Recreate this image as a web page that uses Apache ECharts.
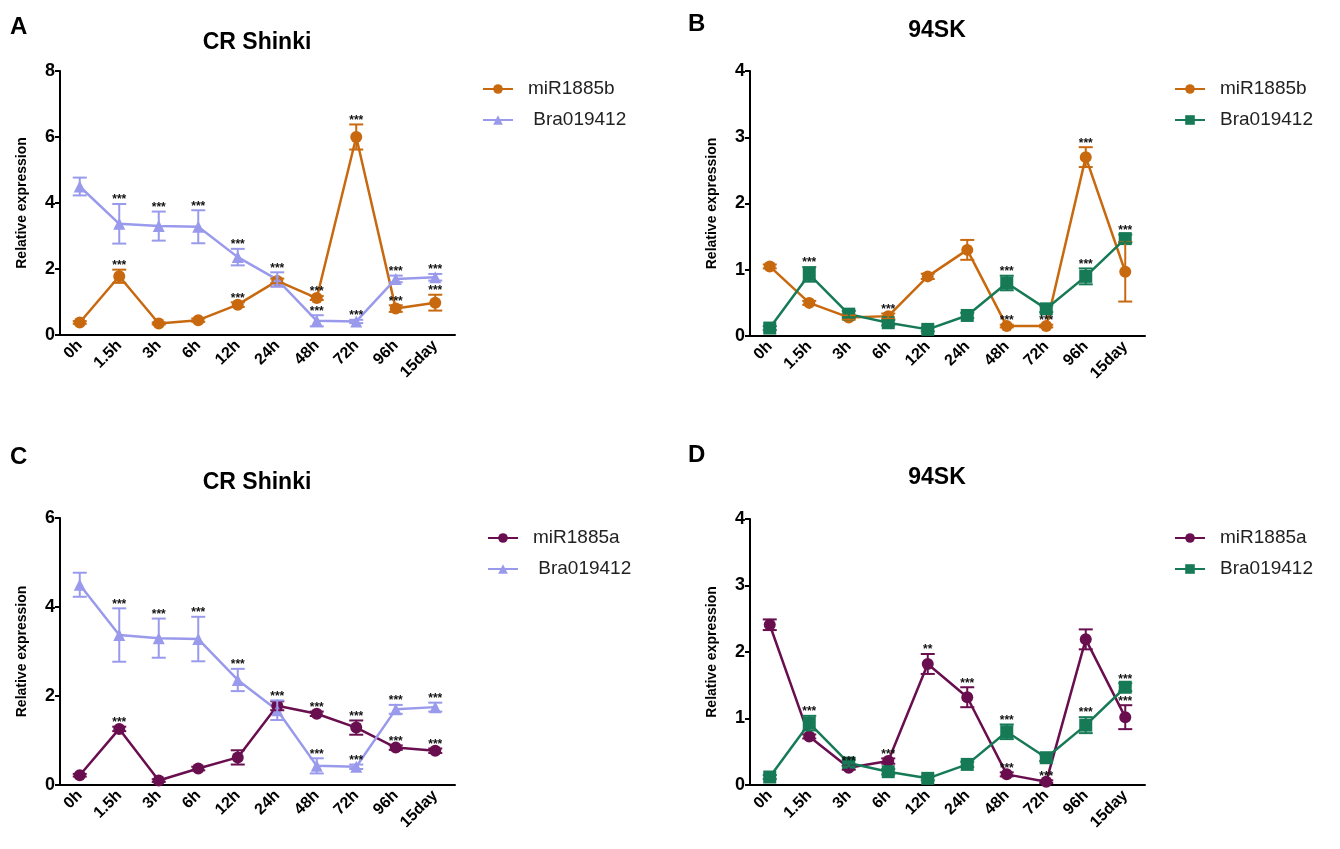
<!DOCTYPE html>
<html>
<head>
<meta charset="utf-8">
<title>miR1885 / Bra019412 relative expression</title>
<script src="https://cdn.jsdelivr.net/npm/echarts@6/dist/echarts.min.js"></script>
<style>
  html, body { margin: 0; padding: 0; background: #fff; }
  #chart { width: 1340px; height: 849px; }
</style>
</head>
<body>
<div id="chart"></div>
<script>
// Sampling times after inoculation
const categories = ['0h', '1.5h', '3h', '6h', '12h', '24h', '48h', '72h', '96h', '15day'];

// CR Shinki
const shinkiBra = [4.50, 3.37, 3.30, 3.28, 2.36, 1.68, 0.43, 0.41, 1.70, 1.75];
const shinkiBraErr = [0.27, 0.60, 0.44, 0.50, 0.25, 0.22, 0.17, 0.05, 0.10, 0.10];
const shinkiBraStars = ['', '***', '***', '***', '***', '***', '***', '***', '***', '***'];

const shinkiMiR1885b = [0.38, 1.78, 0.35, 0.45, 0.92, 1.64, 1.12, 6.00, 0.80, 0.98];
const shinkiMiR1885bErr = [0.04, 0.20, 0.03, 0.05, 0.07, 0.07, 0.06, 0.38, 0.10, 0.24];
const shinkiMiR1885bStars = ['', '***', '', '', '***', '', '***', '***', '***', '***'];

const shinkiMiR1885a = [0.22, 1.26, 0.10, 0.37, 0.62, 1.78, 1.60, 1.29, 0.84, 0.77];
const shinkiMiR1885aErr = [0.03, 0.05, 0.03, 0.04, 0.16, 0.10, 0.05, 0.16, 0.05, 0.05];
const shinkiMiR1885aStars = ['', '***', '', '', '', '', '***', '***', '***', '***'];

// 94SK
const skBra = [0.12, 0.93, 0.33, 0.20, 0.10, 0.31, 0.80, 0.41, 0.90, 1.47];
const skBraErr = [0.03, 0.11, 0.05, 0.04, 0.03, 0.04, 0.11, 0.05, 0.12, 0.06];
const skBraStars = ['', '***', '', '', '', '', '***', '', '***', '***'];

const skMiR1885b = [1.05, 0.50, 0.28, 0.30, 0.90, 1.30, 0.15, 0.15, 2.70, 0.97];
const skMiR1885bErr = [0.03, 0.03, 0.03, 0.04, 0.04, 0.15, 0.02, 0.02, 0.15, 0.45];
const skMiR1885bStars = ['', '', '', '***', '', '', '***', '***', '***', ''];

const skMiR1885a = [2.41, 0.73, 0.26, 0.36, 1.82, 1.32, 0.16, 0.05, 2.19, 1.02];
const skMiR1885aErr = [0.08, 0.03, 0.03, 0.04, 0.15, 0.15, 0.03, 0.02, 0.15, 0.18];
const skMiR1885aStars = ['', '', '***', '***', '**', '***', '***', '***', '', '***'];

// Axis ranges per panel [max, step]
const yRanges = [[8, 2], [4, 1], [6, 2], [4, 1]];

const FONT = 'Arial, "Liberation Sans", sans-serif';
const ORANGE = '#c8690f';
const LAVENDER = '#9a9aec';
const GREEN = '#177a56';
const PURPLE = '#690e4e';

const grids = [
  { left: 60, top: 71, width: 395, height: 264 },
  { left: 750, top: 71, width: 395, height: 265 },
  { left: 60, top: 518, width: 395, height: 267 },
  { left: 750, top: 519, width: 395, height: 266 }
];

function xAxisFor(i) {
  return {
    type: 'category', gridIndex: i, data: categories, boundaryGap: true,
    axisLine: { lineStyle: { color: '#000', width: 2 } },
    axisTick: { alignWithLabel: true, length: 7, lineStyle: { color: '#000', width: 2 } },
    axisLabel: { rotate: 45, margin: 8, color: '#000', fontWeight: 'bold', fontSize: 16, fontFamily: FONT },
    splitLine: { show: false }
  };
}

function yAxisFor(i) {
  return {
    type: 'value', gridIndex: i, min: 0, max: yRanges[i][0], interval: yRanges[i][1],
    name: 'Relative expression', nameLocation: 'middle', nameGap: 31,
    nameTextStyle: { color: '#000', fontWeight: 'bold', fontSize: 14, fontFamily: FONT },
    axisLine: { show: true, lineStyle: { color: '#000', width: 2 } },
    axisTick: { show: true, length: 5, lineStyle: { color: '#000', width: 2 } },
    axisLabel: { margin: 5, color: '#000', fontWeight: 'bold', fontSize: 18, fontFamily: FONT },
    splitLine: { show: false }
  };
}

function lineSeries(name, grid, values, color, symbol) {
  return {
    type: 'line', name: name, xAxisIndex: grid, yAxisIndex: grid,
    data: values, symbol: symbol, symbolSize: symbol === 'rect' ? 13 : 12,
    itemStyle: { color: color },
    lineStyle: { color: color, width: 2.5 },
    animation: false, z: 2
  };
}

// Mean ± error bars with significance marks above the upper whisker
function errorSeries(name, grid, values, errs, stars, color) {
  return {
    type: 'custom', name: name + ' error', xAxisIndex: grid, yAxisIndex: grid,
    silent: true, animation: false, z: 3,
    data: values.map((v, i) => [i, v, errs[i]]),
    encode: { x: 0, y: 1 },
    renderItem: function (params, api) {
      const i = api.value(0), v = api.value(1), e = api.value(2);
      const top = api.coord([i, v + e]);
      const bot = api.coord([i, Math.max(v - e, 0)]);
      const cap = 7;
      const children = [];
      if (e > 0) {
        const ls = { stroke: color, lineWidth: 2 };
        children.push({ type: 'line', shape: { x1: top[0], y1: top[1], x2: bot[0], y2: bot[1] }, style: ls });
        children.push({ type: 'line', shape: { x1: top[0] - cap, y1: top[1], x2: top[0] + cap, y2: top[1] }, style: ls });
        children.push({ type: 'line', shape: { x1: bot[0] - cap, y1: bot[1], x2: bot[0] + cap, y2: bot[1] }, style: ls });
      }
      const s = stars[params.dataIndex];
      if (s) {
        children.push({
          type: 'text', z2: 10,
          style: {
            text: s, x: top[0], y: top[1] - 4,
            align: 'center', verticalAlign: 'middle', textAlign: 'center', textVerticalAlign: 'middle',
            font: 'bold 12px ' + FONT, fill: '#111'
          }
        });
      }
      return { type: 'group', children: children };
    }
  };
}

function legendFor(left, top, names) {
  return {
    orient: 'vertical', left: left, top: top, data: names,
    itemWidth: 30, itemHeight: 12, itemGap: 11, selectedMode: false,
    textStyle: { fontSize: 19, color: '#222', fontFamily: FONT, lineHeight: 20, padding: [0, 0, 0, 10] }
  };
}

function label(text, x, y, size, align) {
  return {
    type: 'text', x: x, y: y,
    style: {
      text: text, font: 'bold ' + size + 'px ' + FONT, fill: '#000',
      align: align, textAlign: align, verticalAlign: 'middle', textVerticalAlign: 'middle'
    }
  };
}

const option = {
  backgroundColor: '#fff',
  animation: false,
  grid: grids,
  xAxis: [0, 1, 2, 3].map(xAxisFor),
  yAxis: [0, 1, 2, 3].map(yAxisFor),
  legend: [
    legendFor(477, 74, ['miR1885b', ' Bra019412']),
    legendFor(1169, 74, ['miR1885b', 'Bra019412']),
    legendFor(482, 523, ['miR1885a', ' Bra019412']),
    legendFor(1169, 523, ['miR1885a', 'Bra019412'])
  ],
  graphic: [
    label('A', 10, 27, 24, 'left'),
    label('B', 688, 24, 24, 'left'),
    label('C', 10, 457, 24, 'left'),
    label('D', 688, 455, 24, 'left'),
    label('CR Shinki', 257, 43, 23, 'center'),
    label('94SK', 937, 31, 23, 'center'),
    label('CR Shinki', 257, 483, 23, 'center'),
    label('94SK', 937, 478, 23, 'center')
  ],
  series: [
    // A: CR Shinki, miR1885b vs Bra019412
    lineSeries('miR1885b', 0, shinkiMiR1885b, ORANGE, 'circle'),
    lineSeries(' Bra019412', 0, shinkiBra, LAVENDER, 'triangle'),
    errorSeries('miR1885b', 0, shinkiMiR1885b, shinkiMiR1885bErr, shinkiMiR1885bStars, ORANGE),
    errorSeries('Bra019412 A', 0, shinkiBra, shinkiBraErr, shinkiBraStars, LAVENDER),
    // B: 94SK, miR1885b vs Bra019412
    lineSeries('miR1885b', 1, skMiR1885b, ORANGE, 'circle'),
    lineSeries('Bra019412', 1, skBra, GREEN, 'rect'),
    errorSeries('miR1885b B', 1, skMiR1885b, skMiR1885bErr, skMiR1885bStars, ORANGE),
    errorSeries('Bra019412 B', 1, skBra, skBraErr, skBraStars, GREEN),
    // C: CR Shinki, miR1885a vs Bra019412
    lineSeries('miR1885a', 2, shinkiMiR1885a, PURPLE, 'circle'),
    lineSeries(' Bra019412', 2, shinkiBra, LAVENDER, 'triangle'),
    errorSeries('miR1885a C', 2, shinkiMiR1885a, shinkiMiR1885aErr, shinkiMiR1885aStars, PURPLE),
    errorSeries('Bra019412 C', 2, shinkiBra, shinkiBraErr, shinkiBraStars, LAVENDER),
    // D: 94SK, miR1885a vs Bra019412
    lineSeries('miR1885a', 3, skMiR1885a, PURPLE, 'circle'),
    lineSeries('Bra019412', 3, skBra, GREEN, 'rect'),
    errorSeries('miR1885a D', 3, skMiR1885a, skMiR1885aErr, skMiR1885aStars, PURPLE),
    errorSeries('Bra019412 D', 3, skBra, skBraErr, skBraStars, GREEN)
  ]
};

const chart = echarts.init(document.getElementById('chart'), null, { renderer: 'canvas' });
chart.setOption(option);
</script>
</body>
</html>
